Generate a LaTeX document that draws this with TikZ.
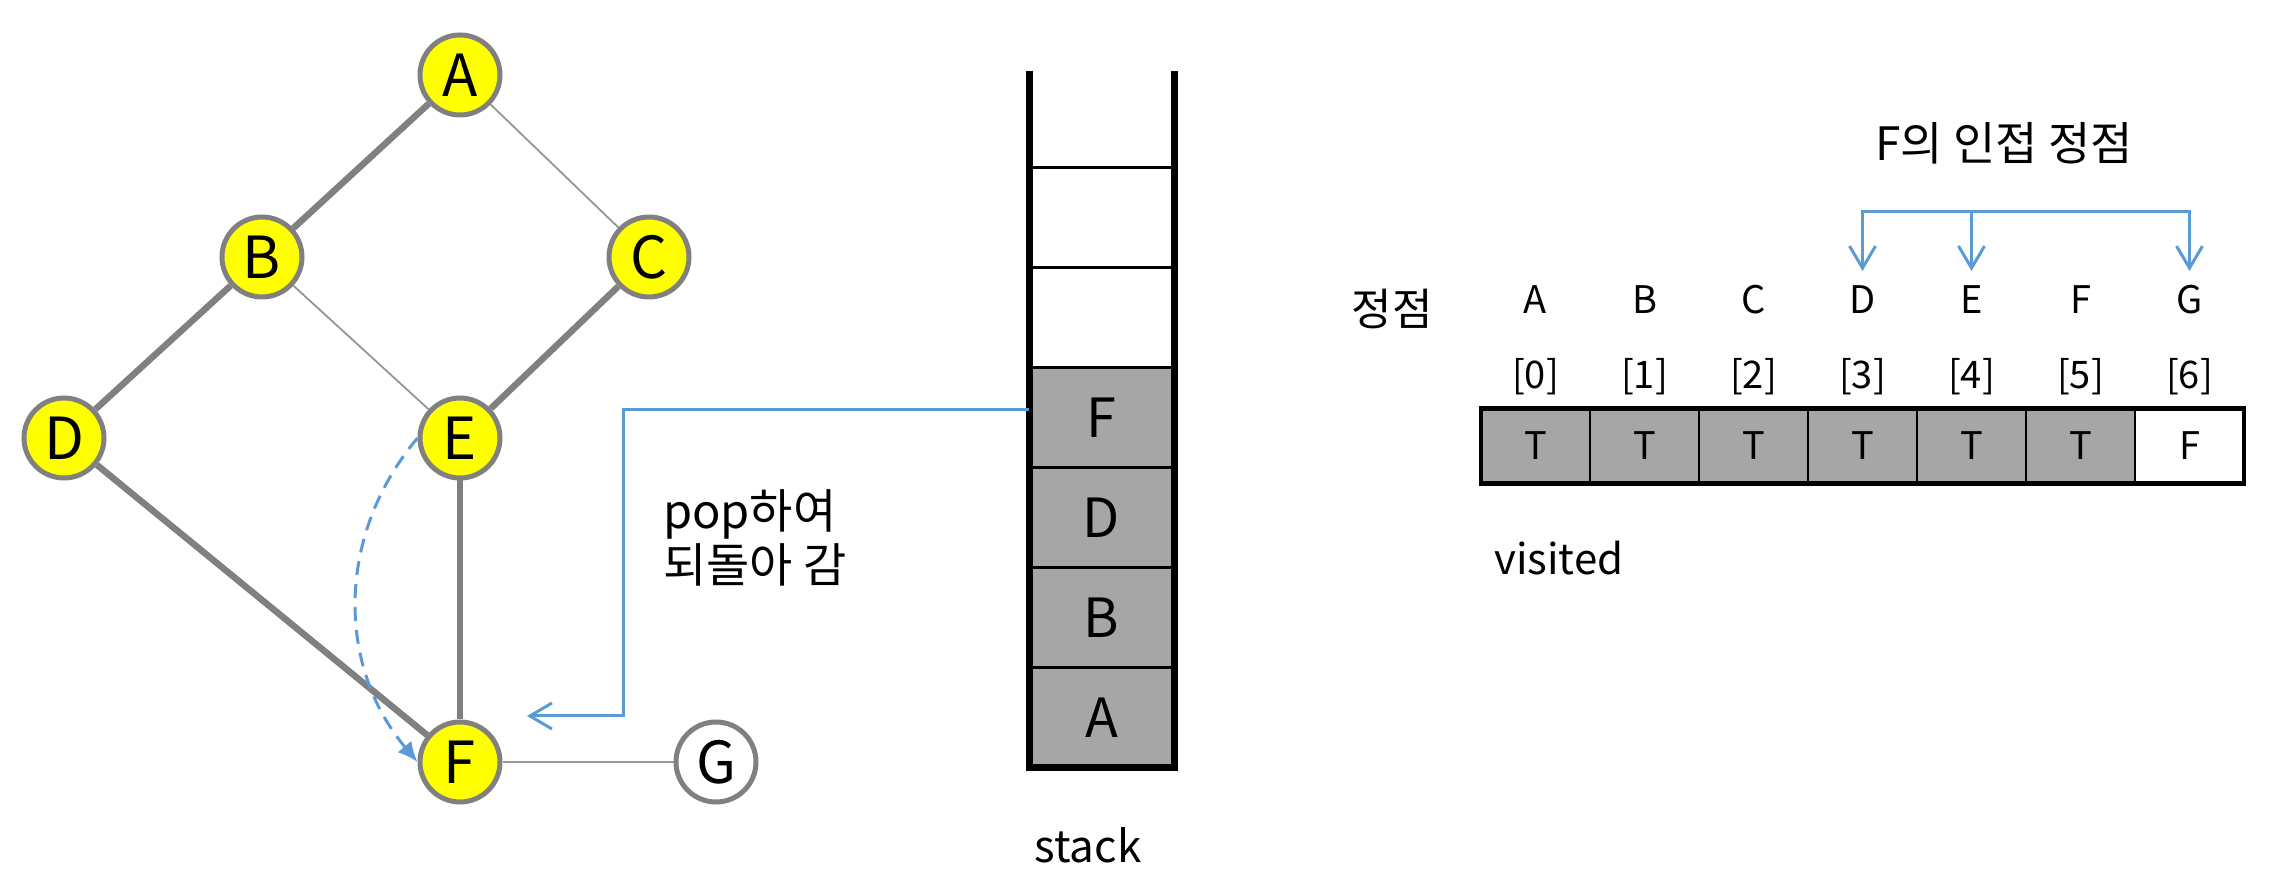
\documentclass[tikz,border=0pt]{standalone}
\usepackage{fontspec}
\setmainfont{Noto Sans CJK KR}
\usepackage{tikz}
\usetikzlibrary{arrows.meta,positioning}
\usepackage{xcolor}
\definecolor{dsyellow}{RGB}{255,255,0}
\definecolor{dsgray}{RGB}{128,128,128}
\definecolor{dslightgray}{RGB}{150,150,150}
\definecolor{dscell}{RGB}{166,166,166}
\definecolor{dsblue}{RGB}{91,155,213}
\newcommand{\fsz}[1]{\fontsize{#1}{#1}\selectfont}
\tikzstyle{vertex} = [circle, minimum size=80pt, inner sep=0pt, draw=dsgray, fill=dsyellow, line width=5pt, font=\fsz{58pt}]
\tikzstyle{visitedge} = [line width=6.5pt, color=dsgray]
\tikzstyle{plainedge} = [line width=1.8pt, color=dslightgray]
\tikzstyle{cell} = [rectangle, minimum width=145pt, minimum height=100pt, inner sep=0pt, outer sep=0pt, draw=black, line width=3pt, fill=dscell, font=\fsz{54pt}]
\tikzstyle{vcell} = [rectangle, minimum width=109pt, minimum height=75pt, inner sep=0pt, outer sep=0pt, draw=black, line width=2.5pt, fill=dscell, font=\fsz{38pt}]
\tikzstyle{head} = [minimum height=58pt, inner sep=0pt, outer sep=0pt, font=\fsz{38pt}]
\tikzstyle{note} = [inner sep=0pt, font=\fsz{42pt}]
\tikzstyle{wall} = [line width=7pt, color=black]
\tikzstyle{arrow} = [line width=3pt, color=dsblue, -{Straight Barb[length=22pt,width=26pt]}]

\begin{document}
\begin{tikzpicture}[x=1pt, y=1pt]
\useasboundingbox (0,0) rectangle (2279,886);
% Graph
\node (A) [vertex] at (460,811) {A};
\node (B) [vertex] at (262,629) {B};
\node (C) [vertex] at (649,629) {C};
\node (D) [vertex] at (64,448) {D};
\node (E) [vertex] at (460,448) {E};
\node (F) [vertex] at (460,124) {F};
\node (G) [vertex, fill=white] at (716,124) {G};

\draw[visitedge] (A) -- (B);
\draw[visitedge] (B) -- (D);
\draw[visitedge] (D) -- (F);
\draw[visitedge] (F) -- (E);
\draw[visitedge] (E) -- (C);
\draw[plainedge] (A) -- (C);
\draw[plainedge] (B) -- (E);
\draw[plainedge] (F) -- (G);

\draw[arrow, dash pattern=on 14pt off 9pt, -{Latex[length=20pt,width=18pt]}] (E.west) to[bend right=40] (F.west);

% Stack
\begin{scope}[node distance=100pt]
\node (sA) [cell] at (1101.5,168) {A};
\node (sB) [cell, above of=sA] {B};
\node (sD) [cell, above of=sB] {D};
\node (sF) [cell, above of=sD] {F};
\node (s5) [cell, above of=sF, fill=white] {};
\node (s6) [cell, above of=s5, fill=white] {};
\end{scope}
\coordinate (stacktop) at (1101.5,815);
\draw[wall] (sA.south west |- stacktop) -- (sA.south west) -- (sA.south east) -- (sA.south east |- stacktop);
\node (stacklbl) [note, font=\fsz{44pt}] at (1088,41) {stack};

% Pop back to F
\coordinate (bend) at (623,170);
\coordinate (tip) at (527,170);
\draw[arrow] ([yshift=8pt]sF.west) -| (bend) -- (tip);
\node (poptxt) [note, anchor=west, align=left, font=\fontsize{47pt}{54pt}\selectfont] at (663,348) {pop하여\\되돌아 감};

% Visited array
\node (vlbl) [note, font=\fsz{44pt}] at (1392,577) {정점};
\foreach \l [count=\i from 0] in {A,B,C,D,E,F,G} {
  \node (h\l) [head] at (1535.5+109*\i,586) {\l};
  \node (idx\i) [head] at (1535.5+109*\i,509) {[\i]};
}
\begin{scope}[node distance=109pt]
\node (v0) [vcell] at (1535.5,440) {T};
\node (v1) [vcell, right of=v0] {T};
\node (v2) [vcell, right of=v1] {T};
\node (v3) [vcell, right of=v2] {T};
\node (v4) [vcell, right of=v3] {T};
\node (v5) [vcell, right of=v4] {T};
\node (v6) [vcell, right of=v5, fill=white] {F};
\end{scope}
\draw[line width=4.5pt] (v0.north west) rectangle (v6.south east);
\node (vis) [note, anchor=west] at (1494,328) {visited};

% Neighbours of F
\node (adj) [note, font=\fsz{46pt}] at (2004,743) {F의 인접 정점};
\coordinate (fork) at ([yshift=59pt]hE.north);
\draw[arrow] (fork) -| (hD.north);
\draw[arrow] (fork) -| (hG.north);
\draw[arrow] (fork) -- (hE.north);
\end{tikzpicture}
\end{document}
